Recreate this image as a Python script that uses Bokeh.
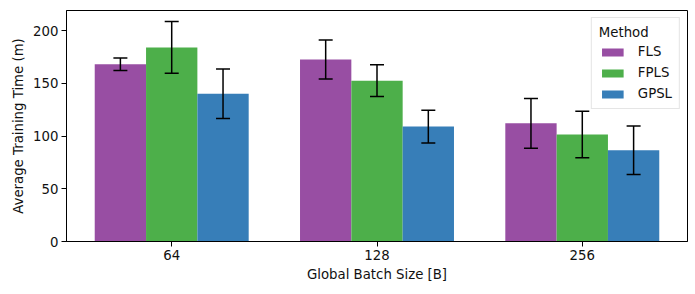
import numpy as np
from bokeh.plotting import figure
from bokeh.models import ColumnDataSource, Range1d, FixedTicker, Whisker, TeeHead, Legend, LegendItem
from bokeh.embed import file_html
from bokeh.resources import INLINE

batch_sizes = ["64", "128", "256"]
methods = ["FLS", "FPLS", "GPSL"]
colors = ["#984ea3", "#4daf4a", "#377eb8"]
fls_mean = [168, 172.5, 112]
fls_err = [6, 18.5, 23.5]
fpls_mean = [184, 152.5, 101.5]
fpls_err = [24.5, 15, 22]
gpsl_mean = [140, 109, 86.5]
gpsl_err = [23.5, 15.5, 23]
y_ticks = [0, 50, 100, 150, 200]

FONT = "DejaVu Sans"
FS = "13.3px"
bar_w = 0.25
offsets = [-0.25, 0.0, 0.25]

p = figure(frame_width=621, frame_height=231, output_backend="svg", toolbar_location=None,
           x_range=Range1d(-0.5125, 2.5125), y_range=Range1d(0, 219),
           min_border_left=66, min_border_right=3, min_border_top=10, min_border_bottom=43)
p.xgrid.visible = False
p.ygrid.visible = False
p.outline_line_color = "black"
p.outline_line_alpha = 1
p.outline_line_width = 1
p.background_fill_color = "white"

series = [(fls_mean, fls_err), (fpls_mean, fpls_err), (gpsl_mean, gpsl_err)]
items = []
base_x = np.arange(len(batch_sizes))
for (m, e), name, c, off in zip(series, methods, colors, offsets):
    xs = base_x + off
    src = ColumnDataSource(dict(x=xs, top=m,
                                lower=np.array(m) - np.array(e),
                                upper=np.array(m) + np.array(e)))
    r = p.vbar(x="x", top="top", width=bar_w, source=src, fill_color=c, line_color=None)
    items.append(LegendItem(label=name, renderers=[r]))
    w = Whisker(base="x", lower="lower", upper="upper", source=src, level="annotation",
                line_color="black", line_width=1.5,
                upper_head=TeeHead(size=14, line_color="black", line_width=1.5),
                lower_head=TeeHead(size=14, line_color="black", line_width=1.5))
    p.add_layout(w)

legend = Legend(items=items, location="top_right", title="Method",
                label_text_font=FONT, label_text_font_size=FS, label_text_color="#111111",
                title_text_font=FONT, title_text_font_size=FS, title_text_font_style="normal",
                title_text_color="#111111", title_standoff=4,
                glyph_width=27, glyph_height=10, spacing=6, padding=7, margin=7,
                label_standoff=12, border_line_color="#cccccc", border_line_width=1,
                background_fill_alpha=0.8)
p.add_layout(legend)

p.xaxis.ticker = FixedTicker(ticks=list(base_x))
p.xaxis.major_label_overrides = {int(i): s for i, s in enumerate(batch_sizes)}
p.yaxis.ticker = FixedTicker(ticks=y_ticks)
p.xaxis.axis_label = "Global Batch Size [B]"
p.yaxis.axis_label = "Average Training Time (m)"
for ax in (p.xaxis[0], p.yaxis[0]):
    ax.axis_label_text_font = FONT
    ax.axis_label_text_font_size = FS
    ax.axis_label_text_font_style = "normal"
    ax.axis_label_text_color = "#111111"
    ax.major_label_text_font = FONT
    ax.major_label_text_font_size = FS
    ax.major_label_text_color = "#111111"
    ax.major_tick_in = 0
    ax.major_tick_out = 5
    ax.minor_tick_in = 0
    ax.minor_tick_out = 0
    ax.axis_line_color = "black"
    ax.major_tick_line_color = "black"
    ax.axis_label_standoff = 4
    ax.major_label_standoff = 3

open("out.html", "w").write(file_html(p, INLINE))
